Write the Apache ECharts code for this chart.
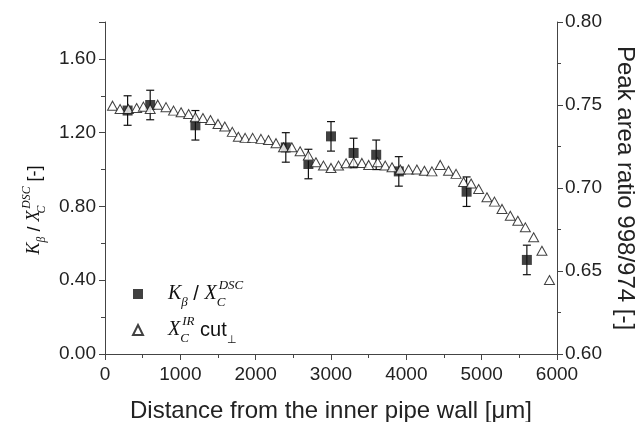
<!DOCTYPE html>
<html>
<head>
<meta charset="utf-8">
<script src="https://cdn.jsdelivr.net/npm/echarts@6/dist/echarts.min.js"></script>
<style>
  html, body { margin: 0; padding: 0; background: #fff; }
  #chart { width: 639px; height: 422px; }
</style>
</head>
<body>
<div id="chart"></div>
<script>
// K_beta / X_C^DSC (left axis), with error bars
const sqX = [300, 600, 1200, 2400, 2700, 3000, 3300, 3600, 3900, 4800, 5600]
const sqY = [1.32, 1.35, 1.24, 1.12, 1.03, 1.18, 1.09, 1.08, 0.99, 0.88, 0.51]
const sqErr = [0.08, 0.08, 0.08, 0.08, 0.08, 0.08, 0.08, 0.08, 0.08, 0.08, 0.08]

// X_C^IR cut (right axis, peak area ratio)
const triX = [100, 200, 310, 420, 510, 600, 700, 810, 910, 1010, 1110, 1200, 1300, 1400, 1500,
  1590, 1690, 1770, 1860, 1960, 2070, 2170, 2270, 2370, 2480, 2590, 2700, 2800, 2900, 3000,
  3100, 3200, 3300, 3410, 3500, 3620, 3720, 3810, 3920, 4030, 4140, 4240, 4340, 4450, 4560,
  4660, 4760, 4860, 4960, 5070, 5170, 5270, 5380, 5480, 5580, 5690, 5800, 5900]
const triY = [0.7496, 0.7476, 0.7476, 0.7482, 0.749, 0.7476, 0.7502, 0.7487, 0.7466, 0.7456,
  0.7446, 0.7426, 0.7422, 0.741, 0.7386, 0.737, 0.7338, 0.7309, 0.7302, 0.7302, 0.7296, 0.7289,
  0.727, 0.7245, 0.7245, 0.7221, 0.7195, 0.7155, 0.7135, 0.7121, 0.7135, 0.7149, 0.7155, 0.7151,
  0.7139, 0.7155, 0.7135, 0.7125, 0.7111, 0.7111, 0.7111, 0.7104, 0.71, 0.7139, 0.7104, 0.7085,
  0.7036, 0.7027, 0.6994, 0.6944, 0.6918, 0.6874, 0.6833, 0.6803, 0.6763, 0.6703, 0.6622, 0.6446]

const chart = echarts.init(document.getElementById('chart'))

const sans = 'Liberation Sans'
const serif = 'Liberation Serif'
const axisColor = '#444'

// rich text pieces for math-like labels
const mathStyle = (size) => ({
  i: { fontFamily: serif, fontStyle: 'italic', fontSize: size, lineHeight: size * 1.5, color: '#111' },
  n: { fontFamily: sans, fontSize: size, lineHeight: size * 1.5, color: '#111' },
  sb: { fontFamily: serif, fontStyle: 'italic', fontSize: size * 0.65, verticalAlign: 'bottom', color: '#111' },
  sbc: { fontFamily: serif, fontStyle: 'italic', fontSize: size * 0.65, verticalAlign: 'bottom', width: 2, color: '#111' },
  sp: { fontFamily: serif, fontStyle: 'italic', fontSize: size * 0.65, verticalAlign: 'top', color: '#111' },
  sbn: { fontFamily: sans, fontSize: size * 0.55, verticalAlign: 'bottom', color: '#111' },
})

const errData = sqX.map((x, i) => [x, sqY[i] - sqErr[i], sqY[i] + sqErr[i]])

const option = {
  backgroundColor: '#fff',
  animation: false,
  grid: { left: 105, right: 82, top: 22, bottom: 68, outerBoundsMode: 'none', containLabel: false },
  legend: {
    orient: 'vertical',
    left: 127,
    top: 274,
    itemWidth: 10,
    itemHeight: 10,
    itemGap: 6,
    data: [
      { name: 'kb', icon: 'rect' },
      { name: 'xir', icon: 'triangle' },
    ],
    formatter: (name) =>
      name === 'kb'
        ? '{i|K}{sb|β}{n| / }{i|X}{sbc|C}{sp|DSC}'
        : '{i|X}{sbc|C}{sp|IR}{n| cut}{sbn|⊥}',
    textStyle: { padding: [0, 0, 0, 20], rich: mathStyle(20) },
  },
  xAxis: {
    type: 'value',
    min: 0,
    max: 6000,
    interval: 1000,
    name: 'Distance from the inner pipe wall [μm]',
    nameLocation: 'middle',
    nameGap: 45,
    nameTextStyle: { fontFamily: sans, fontSize: 24, color: '#222' },
    axisLine: { lineStyle: { color: axisColor } },
    axisTick: { length: 6, lineStyle: { color: axisColor } },
    minorTick: { show: true, splitNumber: 2, length: 4, lineStyle: { color: axisColor } },
    axisLabel: { fontFamily: sans, fontSize: 19, color: '#222', margin: 11, formatter: (v) => String(v) },
    splitLine: { show: false },
  },
  yAxis: [
    {
      type: 'value',
      min: 0,
      max: 1.8,
      interval: 0.4,
      position: 'left',
      name: '{i|K}{sb|β}{n| / }{i|X}{sbc|C}{sp|DSC}{n| [-]}',
      nameLocation: 'middle',
      nameRotate: 90,
      nameGap: 52,
      nameTextStyle: { rich: mathStyle(18), padding: [0, 44, 0, 0] },
      axisLine: { show: true, lineStyle: { color: axisColor } },
      axisTick: { length: 6, lineStyle: { color: axisColor } },
      minorTick: { show: true, splitNumber: 2, length: 4, lineStyle: { color: axisColor } },
      axisLabel: {
        fontFamily: sans, fontSize: 19, color: '#222', margin: 9,
        showMaxLabel: false,
        formatter: (v) => v.toFixed(2),
      },
      splitLine: { show: false },
    },
    {
      type: 'value',
      min: 0.6,
      max: 0.8,
      interval: 0.05,
      position: 'right',
      name: 'Peak area ratio 998/974 [-]',
      nameLocation: 'middle',
      nameRotate: -90,
      nameGap: 53,
      nameTextStyle: { fontFamily: sans, fontSize: 24, color: '#222' },
      axisLine: { show: true, lineStyle: { color: axisColor } },
      axisTick: { length: 6, lineStyle: { color: axisColor } },
      minorTick: { show: true, splitNumber: 2, length: 4, lineStyle: { color: axisColor } },
      axisLabel: {
        fontFamily: sans, fontSize: 19, color: '#222', margin: 8,
        formatter: (v) => v.toFixed(2),
      },
      splitLine: { show: false },
    },
  ],
  series: [
    {
      name: 'err',
      type: 'custom',
      yAxisIndex: 0,
      z: 2,
      data: errData,
      renderItem: (params, api) => {
        const x = api.value(0)
        const top = api.coord([x, api.value(2)])
        const bot = api.coord([x, api.value(1)])
        const w = 4
        const st = { stroke: '#111', lineWidth: 1.2 }
        return {
          type: 'group',
          children: [
            { type: 'line', shape: { x1: top[0], y1: top[1], x2: bot[0], y2: bot[1] }, style: st },
            { type: 'line', shape: { x1: top[0] - w, y1: top[1], x2: top[0] + w, y2: top[1] }, style: st },
            { type: 'line', shape: { x1: bot[0] - w, y1: bot[1], x2: bot[0] + w, y2: bot[1] }, style: st },
          ],
        }
      },
    },
    {
      name: 'kb',
      type: 'scatter',
      yAxisIndex: 0,
      symbol: 'rect',
      symbolSize: 10,
      z: 3,
      itemStyle: { color: '#111' },
      data: sqX.map((x, i) => [x, sqY[i]]),
    },
    {
      name: 'xir',
      type: 'scatter',
      yAxisIndex: 1,
      symbol: 'triangle',
      symbolSize: [10, 9],
      z: 4,
      itemStyle: { color: '#fff', borderColor: '#111', borderWidth: 1 },
      data: triX.map((x, i) => [x, triY[i]]),
    },
  ],
}

chart.setOption(option)
</script>
</body>
</html>
